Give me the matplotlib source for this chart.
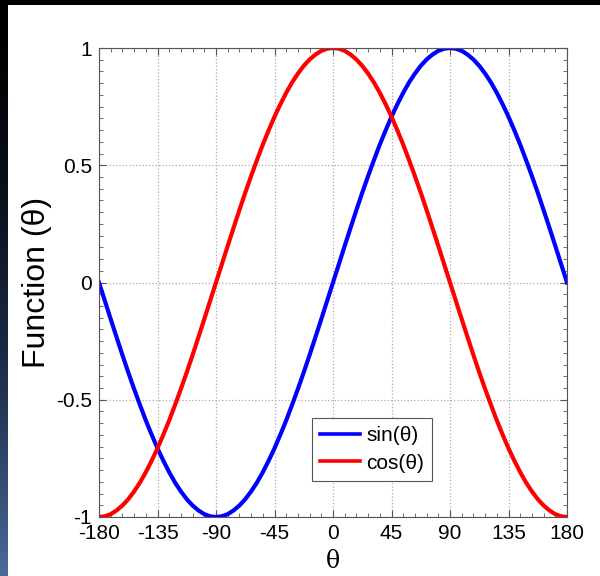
import numpy as np
import matplotlib
matplotlib.use('Agg')
import matplotlib.pyplot as plt
from matplotlib.ticker import MultipleLocator

plt.rcParams['font.family'] = ['Liberation Sans', 'DejaVu Sans']

#----------------------- data -----------------------#
theta = [-180, -175.5, -171, -166.5, -162, -157.5, -153, -148.5, -144, -139.5,
         -135, -130.5, -126, -121.5, -117, -112.5, -108, -103.5, -99, -94.5,
         -90, -85.5, -81, -76.5, -72, -67.5, -63, -58.5, -54, -49.5,
         -45, -40.5, -36, -31.5, -27, -22.5, -18, -13.5, -9, -4.5,
         0, 4.5, 9, 13.5, 18, 22.5, 27, 31.5, 36, 40.5,
         45, 49.5, 54, 58.5, 63, 67.5, 72, 76.5, 81, 85.5,
         90, 94.5, 99, 103.5, 108, 112.5, 117, 121.5, 126, 130.5,
         135, 139.5, 144, 148.5, 153, 157.5, 162, 166.5, 171, 175.5, 180]
sin_vals = [0, -0.078, -0.156, -0.233, -0.309, -0.383, -0.454, -0.522, -0.588, -0.649,
            -0.707, -0.760, -0.809, -0.853, -0.891, -0.924, -0.951, -0.972, -0.988, -0.997,
            -1, -0.997, -0.988, -0.972, -0.951, -0.924, -0.891, -0.853, -0.809, -0.760,
            -0.707, -0.649, -0.588, -0.522, -0.454, -0.383, -0.309, -0.233, -0.156, -0.078,
            0, 0.078, 0.156, 0.233, 0.309, 0.383, 0.454, 0.522, 0.588, 0.649,
            0.707, 0.760, 0.809, 0.853, 0.891, 0.924, 0.951, 0.972, 0.988, 0.997,
            1, 0.997, 0.988, 0.972, 0.951, 0.924, 0.891, 0.853, 0.809, 0.760,
            0.707, 0.649, 0.588, 0.522, 0.454, 0.383, 0.309, 0.233, 0.156, 0.078, 0]
cos_vals = [-1, -0.997, -0.988, -0.972, -0.951, -0.924, -0.891, -0.853, -0.809, -0.760,
            -0.707, -0.649, -0.588, -0.522, -0.454, -0.383, -0.309, -0.233, -0.156, -0.078,
            0, 0.078, 0.156, 0.233, 0.309, 0.383, 0.454, 0.522, 0.588, 0.649,
            0.707, 0.760, 0.809, 0.853, 0.891, 0.924, 0.951, 0.972, 0.988, 0.997,
            1, 0.997, 0.988, 0.972, 0.951, 0.924, 0.891, 0.853, 0.809, 0.760,
            0.707, 0.649, 0.588, 0.522, 0.454, 0.383, 0.309, 0.233, 0.156, 0.078,
            0, -0.078, -0.156, -0.233, -0.309, -0.383, -0.454, -0.522, -0.588, -0.649,
            -0.707, -0.760, -0.809, -0.853, -0.891, -0.924, -0.951, -0.972, -0.988, -0.997, -1]
x_ticks = [-180, -135, -90, -45, 0, 45, 90, 135, 180]
y_ticks = [-1, -0.5, 0, 0.5, 1]
y_labels = ['-1', '-0.5', '0', '0.5', '1']

#------------------- background ---------------------#
fig = plt.figure(figsize=(6, 5.76), dpi=100, facecolor='black')

# white slide area
bg = fig.add_axes([0, 0, 1, 1], zorder=-10)
bg.set_xlim(0, 600)
bg.set_ylim(576, 0)
bg.axis('off')
bg.add_patch(plt.Rectangle((8, 5), 600, 600, facecolor='white', edgecolor='none'))

# left strip: black at top fading into slate blue at the bottom
strip = fig.add_axes([0, 0, 8 / 600, 1], zorder=-9)
grad = np.linspace(0, 1, 256).reshape(-1, 1) ** 1.5
cmap = matplotlib.colors.LinearSegmentedColormap.from_list('bg', ['#000000', '#1c2c48', '#4a6a98'])
strip.imshow(grad, aspect='auto', cmap=cmap, origin='upper')
strip.axis('off')

#----------------------- plot -----------------------#
ax = fig.add_axes([99 / 600, 1 - 517 / 576, (567 - 99) / 600, (517 - 48) / 576])
ax.plot(theta, sin_vals, color='#0000ff', lw=3, label='sin(θ)')
ax.plot(theta, cos_vals, color='#ff0000', lw=3, label='cos(θ)')

ax.set_xlim(-180, 180)
ax.set_ylim(-1, 1)
ax.set_xticks(x_ticks)
ax.set_xticklabels([str(t) for t in x_ticks])
ax.set_yticks(y_ticks)
ax.set_yticklabels(y_labels)
ax.xaxis.set_minor_locator(MultipleLocator(9))
ax.yaxis.set_minor_locator(MultipleLocator(0.05))
ax.tick_params(which='both', direction='in', top=True, right=True, color='#555555')
ax.tick_params(which='major', length=5, labelsize=15, pad=5)
ax.tick_params(which='minor', length=3)
for s in ax.spines.values():
    s.set_color('#555555')
    s.set_linewidth(0.8)
ax.grid(True, which='major', linestyle=':', color='#aaaaaa', lw=0.9)

ax.set_xlabel('θ', fontsize=17, labelpad=5, family=['DejaVu Serif'])
ax.set_ylabel('Function (θ)', fontsize=23, labelpad=3)

leg = ax.legend(loc='lower left', bbox_to_anchor=(0.455, 0.077), borderaxespad=0, fontsize=15,
                fancybox=False, framealpha=1, edgecolor='#555555',
                handlelength=1.9, handletextpad=0.3, borderpad=0.4, labelspacing=0.4)
leg.get_frame().set_linewidth(0.8)
for h in leg.get_lines():
    h.set_linewidth(2.6)

fig.savefig('out.png', dpi=100, facecolor=fig.get_facecolor())
